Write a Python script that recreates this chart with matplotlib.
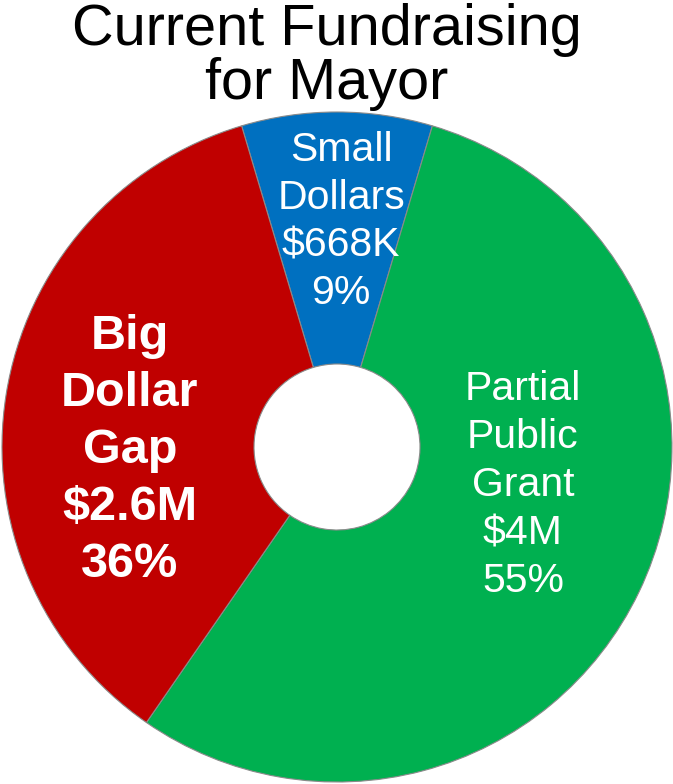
import numpy as np
import matplotlib.pyplot as plt

plt.rcParams['font.family'] = ['Liberation Sans', 'DejaVu Sans']

# data (thousands of dollars)
names = ['Small\nDollars', 'Partial\nPublic\nGrant', 'Big\nDollar\nGap']
amounts = [668, 4000, 2600]
amount_labels = ['$668K', '$4M', '$2.6M']
colors = ['#0070C0', '#00B050', '#C00000']

# label layout: angle (deg), radius fraction, font size, weight, line pitch (px)
label_layout = [
    (88.9, 0.64, 29.5, 'normal', 47.5),
    (-14.8, 0.574, 29.5, 'normal', 48),
    (184.4, 0.62, 35, 'bold', 57),
]

W, H = 673, 784
fig = plt.figure(figsize=(W / 100, H / 100), dpi=100)
ax = fig.add_axes([0, 0, 1, 1])
ax.set_xlim(0, W)
ax.set_ylim(0, H)
ax.set_aspect('equal')
ax.axis('off')

cx, cy = 337, H - 447
R, r_hole = 335, 83
total = sum(amounts)
start = 90 + 360 * amounts[0] / total / 2

ax.pie(amounts, colors=colors, startangle=start, counterclock=False,
       center=(cx, cy), radius=R, frame=True,
       wedgeprops=dict(width=R - r_hole, edgecolor='#8a8a8a', linewidth=0.8))
ax.set_xlim(0, W)
ax.set_ylim(0, H)
ax.axis('off')


def draw_block(x, y_mid, lines, size, weight, pitch):
    n = len(lines)
    y0 = y_mid + pitch * (n - 1) / 2
    for i, line in enumerate(lines):
        ax.text(x, y0 - i * pitch, line, ha='center', va='baseline',
                color='white', fontsize=size, fontweight=weight)


for name, amt, amt_lbl, (ang, rf, size, weight, pitch) in zip(
        names, amounts, amount_labels, label_layout):
    pct = f'{round(100 * amt / total)}%'
    lines = name.split('\n') + [amt_lbl, pct]
    x = cx + R * rf * np.cos(np.radians(ang))
    y = cy + R * rf * np.sin(np.radians(ang))
    draw_block(x, y, lines, size, weight, pitch)

# title
fig.text(327 / W, 1 - 45 / H, 'Current Fundraising', ha='center', va='baseline',
         fontsize=41.5, color='black')
fig.text(327 / W, 1 - 99 / H, 'for Mayor', ha='center', va='baseline',
         fontsize=41.5, color='black')

fig.savefig('out.png', dpi=100, facecolor='white')
